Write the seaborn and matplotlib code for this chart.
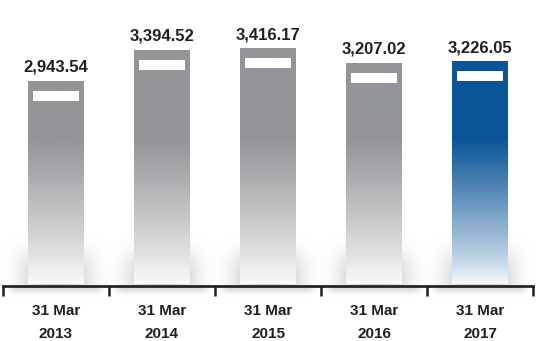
import numpy as np
import pandas as pd
import matplotlib
matplotlib.use("Agg")
import matplotlib.pyplot as plt
import seaborn as sns
from matplotlib import font_manager
from matplotlib.colors import to_rgb
from matplotlib.patches import Rectangle

# --- data -------------------------------------------------------------
dates = ["31 Mar\n2013", "31 Mar\n2014", "31 Mar\n2015", "31 Mar\n2016", "31 Mar\n2017"]
values = [2943.54, 3394.52, 3416.17, 3207.02, 3226.05]
bar_colors = ["#939598", "#939598", "#939598", "#939598", "#0b5597"]

# --- style ------------------------------------------------------------
sns.set_theme(style="white")
plt.rcParams["font.family"] = ["Liberation Sans", "DejaVu Sans"]
INK = "#231f20"

installed = {f.name for f in font_manager.fontManager.ttflist}
if "Liberation Sans Narrow" in installed:
    value_font = dict(family=["Liberation Sans Narrow", "Liberation Sans"], size=13.5)
else:
    value_font = dict(family=["Liberation Sans", "DejaVu Sans"], size=12)

W, H, DPI = 536, 341, 100
fig = plt.figure(figsize=(W / DPI, H / DPI), dpi=DPI)
ax = fig.add_axes([0, 0, 1, 1])

XLIM = (-0.528, 4.528)
YLIM = (-816.5, 4111.3)
AXIS_Y = -18.8
SX = W / (XLIM[1] - XLIM[0])      # pixels per x unit
SY = H / (YLIM[1] - YLIM[0])      # pixels per y unit


def col_px(x):
    return (x - XLIM[0]) * SX


def row_px(v):
    return (YLIM[1] - v) * SY


df = pd.DataFrame({"date": dates, "value": values})
sns.barplot(data=df, x="date", y="value", hue="date", palette=bar_colors,
            legend=False, width=0.52, saturation=1, ax=ax, zorder=2)

# --- soft shadows at the foot of the bars and under the baseline -------
def gauss_blur(a, sigma):
    r = int(3 * sigma)
    k = np.exp(-0.5 * (np.arange(-r, r + 1) / sigma) ** 2)
    k /= k.sum()
    a = np.apply_along_axis(lambda m: np.convolve(m, k, mode="same"), 0, a)
    a = np.apply_along_axis(lambda m: np.convolve(m, k, mode="same"), 1, a)
    return a

axis_row = row_px(AXIS_Y)
rows = np.arange(H)[:, None] + 0.5
cols = np.arange(W)[None, :] + 0.5

foot = np.zeros((H, W))
for p in ax.patches:
    x0, x1 = col_px(p.get_x()), col_px(p.get_x() + p.get_width())
    m = (cols > x0 - 2) & (cols < x1 + 2) & (rows > axis_row - 30) & (rows < axis_row + 10)
    foot[m] = 1.0
foot = gauss_blur(foot, 12) * 0.5
foot[rows[:, 0] > axis_row - 1, :] = 0

band = np.zeros((H, W))
edges = np.arange(-0.5, len(values) + 0.5)
for a, b in zip(edges[:-1], edges[1:]):
    c0, c1 = col_px(a) + 8, col_px(b) - 8
    m = (cols > c0) & (cols < c1) & (rows > axis_row - 2) & (rows < axis_row + 4)
    band[m] = 1.0
band = gauss_blur(band, 3.5) * 0.5
band[rows[:, 0] < axis_row + 1, :] = 0

alpha = np.clip(foot + band, 0, 1)
shadow = np.zeros((H, W, 4))
shadow[..., :3] = to_rgb("#808184")
shadow[..., 3] = alpha
ax.imshow(shadow, extent=(0, 1, 0, 1), transform=ax.transAxes, origin="upper",
          aspect="auto", interpolation="bilinear", zorder=1)

# --- vertical gradient fill for each bar ------------------------------
FADE_TOP = 2100.0
for p, c in zip(ax.patches, bar_colors):
    x0, w, h = p.get_x(), p.get_width(), p.get_height()
    v = np.linspace(0, h, 400)
    t = np.clip(v / FADE_TOP, 0, 1)
    f = 0.03 + 0.97 * t ** 0.85
    rgb = np.array(to_rgb(c))
    img = (1 - f)[:, None] * np.ones(3) + f[:, None] * rgb
    im = ax.imshow(img[:, None, :], extent=(x0, x0 + w, 0, h), origin="lower",
                   aspect="auto", interpolation="bilinear", zorder=2)
    im.set_clip_path(p)
    p.set_facecolor("none")
    p.set_edgecolor("none")

    # white tab near the top of the bar
    inset, gap, tab = 5 / SX, 10 / SY, 10 / SY
    ax.add_patch(Rectangle((x0 + inset, h - gap - tab), w - 2 * inset, tab,
                           facecolor="white", edgecolor="none", zorder=3))

    ax.annotate(f"{h:,.2f}", xy=(x0 + w / 2, h), xytext=(0, 9 * 72 / DPI),
                textcoords="offset points", ha="center", va="baseline",
                fontweight="bold", color=INK, **value_font)

ax.set_xlim(XLIM)
ax.set_ylim(YLIM)

# --- baseline with category dividers ----------------------------------
for s in ("top", "left", "right"):
    ax.spines[s].set_visible(False)
sp = ax.spines["bottom"]
sp.set_position(("data", AXIS_Y))
sp.set_bounds(edges[0], edges[-1])
sp.set_linewidth(1.95)
sp.set_color(INK)
sp.set_zorder(4)

ax.set_xticks(edges)
ax.set_xticklabels([""] * len(edges))
ax.set_xticks(np.arange(len(dates)), minor=True)
ax.set_xticklabels(dates, minor=True, fontsize=11, fontweight="bold",
                   color=INK, linespacing=1.8)
ax.tick_params(axis="x", which="major", direction="out", length=7.5,
               width=1.8, color=INK, bottom=True)
ax.tick_params(axis="x", which="minor", length=0, pad=13)
ax.set_yticks([])
ax.set_xlabel("")
ax.set_ylabel("")
ax.set_facecolor("white")

fig.savefig("out.png", dpi=DPI, facecolor="white")
